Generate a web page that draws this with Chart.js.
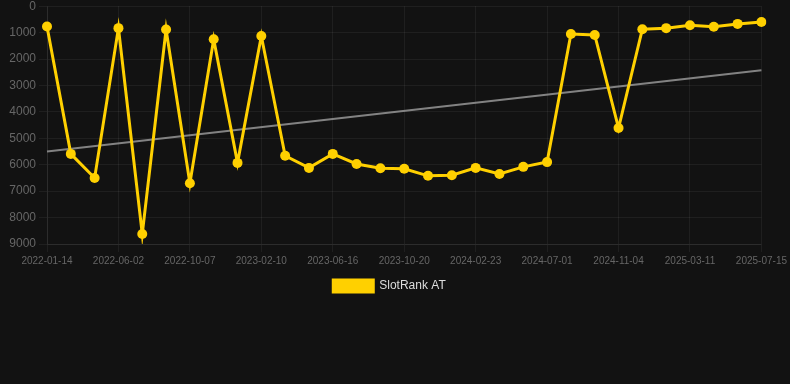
<!DOCTYPE html>
<html>
<head>
<meta charset="utf-8">
<script src="https://cdn.jsdelivr.net/npm/chart.js@4"></script>
<style>
  html, body { margin: 0; padding: 0; background: #121212; overflow: hidden; }
  #wrap { width: 798px; height: 306px; position: relative; margin-left: -8px; margin-top: -4px; }
</style>
</head>
<body>
<div id="wrap"><canvas id="myChart"></canvas></div>
<script>
// rank dates and values (lower rank = better, axis reversed)
const dates = [
    '2022-01-14', '2022-02-28', '2022-04-15', '2022-06-02', '2022-07-14', '2022-08-26',
    '2022-10-07', '2022-11-18', '2022-12-30', '2023-02-10', '2023-03-24', '2023-05-05',
    '2023-06-16', '2023-07-28', '2023-09-08', '2023-10-20', '2023-12-01', '2024-01-12',
    '2024-02-23', '2024-04-05', '2024-05-17', '2024-07-01', '2024-08-12', '2024-09-23',
    '2024-11-04', '2024-12-16', '2025-01-27', '2025-03-11', '2025-04-22', '2025-06-03',
    '2025-07-15'
];
const ranks = [
    770, 5590, 6500, 830, 8620, 880, 6700, 1250, 5930, 1130,
    5660, 6120, 5590, 5970, 6130, 6150, 6420, 6400, 6120, 6350,
    6080, 5900, 1050, 1090, 4610, 870, 830, 720, 780, 670, 600
];
// trend line read at its two ends
const trendStart = 5500;
const trendEnd = 2420;
const trend = dates.map((d, i) => i === 0 ? trendStart : (i === dates.length - 1 ? trendEnd : null));
const yTicks = [0, 1000, 2000, 3000, 4000, 5000, 6000, 7000, 8000, 9000];

const font = "Arial, 'Liberation Sans', sans-serif";
const ctx = document.getElementById('myChart').getContext('2d');
new Chart(ctx, {
    type: 'line',
    data: {
        labels: dates,
        datasets: [{
            label: 'SlotRank AT',
            data: ranks,
            borderColor: '#ffd000',
            backgroundColor: '#ffd000',
            borderWidth: 3,
            pointRadius: 5,
            pointBackgroundColor: '#ffd000',
            pointBorderWidth: 0,
            tension: 0
        }, {
            label: 'trend',
            data: trend,
            spanGaps: true,
            borderColor: 'rgba(150,150,150,0.85)',
            borderWidth: 2,
            pointRadius: 0
        }]
    },
    options: {
        responsive: true,
        maintainAspectRatio: false,
        animation: false,
        layout: { padding: { left: 0, right: 3, top: 0, bottom: 0 } },
        plugins: {
            legend: {
                position: 'bottom',
                labels: {
                    color: '#dddddd',
                    font: { family: font, size: 12 },
                    boxWidth: 40,
                    boxHeight: 12,
                    filter: item => item.text === 'SlotRank AT'
                }
            },
            tooltip: { enabled: false }
        },
        scales: {
            x: {
                grid: { color: 'rgba(255,255,255,0.06)' },
                border: { color: 'rgba(255,255,255,0.06)' },
                ticks: {
                    color: '#666',
                    font: { family: font, size: 10 },
                    maxRotation: 0,
                    autoSkip: true,
                    maxTicksLimit: 11
                }
            },
            y: {
                reverse: true,
                min: 0,
                max: 9000,
                afterBuildTicks: axis => { axis.ticks = yTicks.map(v => ({ value: v })); },
                afterFit: axis => { axis.width = 55; },
                grid: { color: 'rgba(255,255,255,0.06)' },
                border: { color: 'rgba(255,255,255,0.06)' },
                ticks: {
                    color: '#666',
                    font: { family: font, size: 12 },
                    callback: v => String(v)
                }
            }
        }
    }
});
</script>
</body>
</html>
